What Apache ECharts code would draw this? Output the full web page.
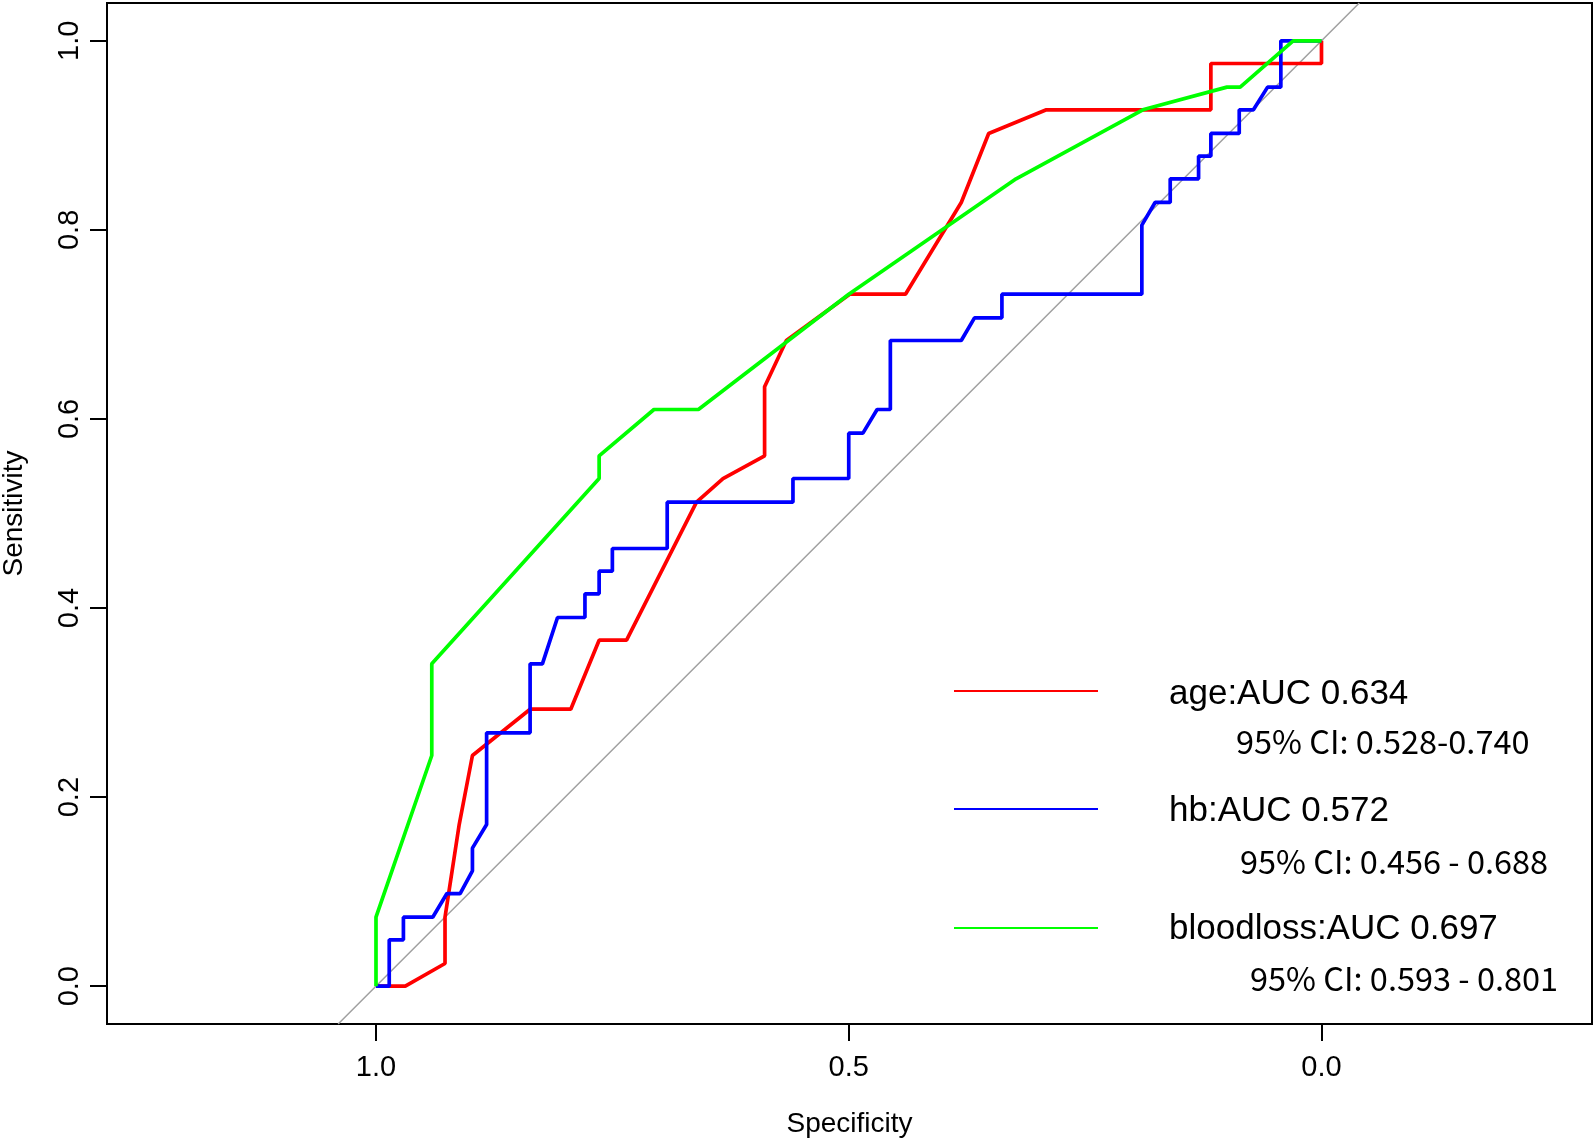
<!DOCTYPE html>
<html>
<head>
<meta charset="utf-8">
<script src="https://cdn.jsdelivr.net/npm/echarts@6/dist/echarts.min.js"></script>
<style>html,body{margin:0;padding:0;background:#fff}#c{width:1594px;height:1138px}</style>
</head>
<body>
<div id="c"></div>
<script>
// ---- data: [specificity, sensitivity] ----
const ageROC = [
  [1.000,0.000],[0.969,0.000],[0.927,0.024],[0.927,0.073],[0.912,0.171],[0.898,0.244],
  [0.837,0.293],[0.794,0.293],[0.764,0.366],[0.735,0.366],[0.661,0.512],[0.633,0.537],
  [0.589,0.561],[0.589,0.634],[0.566,0.683],[0.499,0.732],[0.440,0.732],[0.381,0.829],
  [0.352,0.902],[0.291,0.927],[0.117,0.927],[0.117,0.976],[0.000,0.976],[0.000,1.000]
];
const hbROC = [
  [1.000,0.000],[0.986,0.000],[0.986,0.049],[0.971,0.049],[0.971,0.073],[0.940,0.073],
  [0.925,0.098],[0.911,0.098],[0.898,0.122],[0.898,0.146],[0.883,0.171],[0.883,0.268],
  [0.837,0.268],[0.837,0.341],[0.824,0.341],[0.808,0.390],[0.779,0.390],[0.779,0.415],
  [0.764,0.415],[0.764,0.439],[0.750,0.439],[0.750,0.463],[0.692,0.463],[0.692,0.512],
  [0.559,0.512],[0.559,0.537],[0.500,0.537],[0.500,0.585],[0.485,0.585],[0.470,0.610],
  [0.456,0.610],[0.456,0.683],[0.381,0.683],[0.367,0.707],[0.338,0.707],[0.338,0.732],
  [0.190,0.732],[0.190,0.805],[0.176,0.829],[0.160,0.829],[0.160,0.854],[0.130,0.854],
  [0.130,0.878],[0.117,0.878],[0.117,0.902],[0.087,0.902],[0.087,0.927],[0.072,0.927],
  [0.057,0.951],[0.043,0.951],[0.043,1.000],[0.000,1.000]
];
const bloodlossROC = [
  [1.000,0.000],[1.000,0.073],[0.941,0.244],[0.941,0.341],[0.764,0.537],[0.764,0.561],
  [0.706,0.610],[0.659,0.610],[0.500,0.732],[0.323,0.854],[0.189,0.927],[0.100,0.951],
  [0.086,0.951],[0.030,1.000],[0.000,1.000]
];
const diagonal = [[1.04,-0.04],[-0.04,1.04]];

const seriesNames = ['age','hb','bloodloss'];
const aucValues = ['0.634','0.572','0.697'];
const ciTexts = ['95% CI: 0.528-0.740','95% CI: 0.456 - 0.688','95% CI: 0.593 - 0.801'];
const xTickValues = [0, 0.5, 1.0];
const yTickValues = [0, 0.2, 0.4, 0.6, 0.8, 1.0];
const xTitle = 'Specificity';
const yTitle = 'Sensitivity';

// ---- styles ----
const colors = ['#ff0000','#0000ff','#00ff00'];
const curves = [ageROC, hbROC, bloodlossROC];
const legendLineY = [691, 809, 928];
const labelY = [694, 811, 929];
const ciY = [742, 862, 979];
const ciX = [1236, 1240, 1250];

const chart = echarts.init(document.getElementById('c'), null, {renderer:'canvas'});
const graphic = [];
for (let i = 0; i < 3; i++) {
  graphic.push({type:'line', shape:{x1:954, y1:legendLineY[i], x2:1098, y2:legendLineY[i]},
    style:{stroke:colors[i], lineWidth:2}, z:100});
  graphic.push({type:'text', x:1169, y:labelY[i],
    style:{text: seriesNames[i] + ':AUC ' + aucValues[i], fill:'#000',
      font:'35px "Liberation Sans", Arial, sans-serif', verticalAlign:'middle', align:'left'}, z:100});
  graphic.push({type:'text', x:ciX[i], y:ciY[i],
    style:{text: ciTexts[i], fill:'#000',
      font:'32.5px "Noto Sans CJK SC", "Noto Sans", sans-serif', verticalAlign:'middle', align:'left'}, z:100});
}

const fontFam = '"Liberation Sans", Arial, sans-serif';
const tickLabelStyle = {color:'#000', fontSize:29, fontFamily:fontFam};
const series = [{
  type:'line', data:diagonal, showSymbol:false, silent:true, z:1,
  lineStyle:{color:'#a0a0a0', width:1.5}, animation:false
}];
curves.forEach((d, i) => series.push({
  type:'line', name:seriesNames[i], data:d, showSymbol:false, z:2+i,
  lineStyle:{color:colors[i], width:3.7}, itemStyle:{color:colors[i]}, animation:false
}));

chart.setOption({
  animation:false,
  backgroundColor:'#fff',
  grid:{left:107, top:3, width:1485, height:1021, show:true, borderColor:'#000', borderWidth:2,
        backgroundColor:'transparent', containLabel:false, outerBoundsMode:'none'},
  xAxis:{
    type:'value', min:-0.2861, max:1.2845, inverse:true,
    splitLine:{show:false}, axisLine:{show:false, onZero:false},
    axisTick:{show:true, customValues:xTickValues, length:17, lineStyle:{color:'#000', width:2}},
    axisLabel:Object.assign({customValues:xTickValues, margin:29, formatter:v=>v.toFixed(1)}, tickLabelStyle),
    name:xTitle, nameLocation:'middle', nameGap:86,
    nameTextStyle:{color:'#000', fontSize:28, fontFamily:fontFam}
  },
  yAxis:{
    type:'value', min:-0.04, max:1.04,
    splitLine:{show:false}, axisLine:{show:false, onZero:false},
    axisTick:{show:true, customValues:yTickValues, length:17, lineStyle:{color:'#000', width:2}},
    axisLabel:Object.assign({customValues:yTickValues, margin:23, rotate:90, formatter:v=>v.toFixed(1)}, tickLabelStyle),
    name:yTitle, nameLocation:'middle', nameGap:79, nameRotate:90,
    nameTextStyle:{color:'#000', fontSize:28, fontFamily:fontFam}
  },
  series: series,
  graphic: graphic
});
</script>
</body>
</html>
